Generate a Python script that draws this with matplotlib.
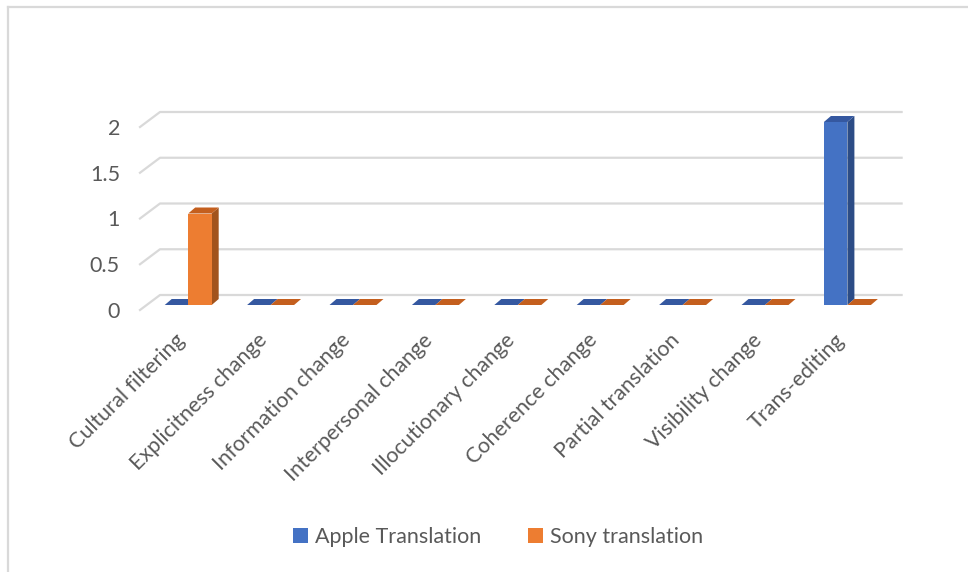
import matplotlib
matplotlib.use("Agg")
import matplotlib.pyplot as plt
from matplotlib.patches import Polygon, Patch
from matplotlib.lines import Line2D
from matplotlib.transforms import ScaledTranslation

categories = ["Cultural filtering", "Explicitness change", "Information change",
              "Interpersonal change", "Illocutionary change", "Coherence change",
              "Partial translation", "Visibility change", "Trans-editing"]
apple = [0, 0, 0, 0, 0, 0, 0, 0, 2]
sony = [1, 0, 0, 0, 0, 0, 0, 0, 0]
series_names = ["Apple Translation", "Sony translation"]
yticks = [0, 0.5, 1, 1.5, 2]

front_cols = ["#4472C4", "#ED7D31"]
top_cols = ["#3558A0", "#C45F1E"]
side_cols = ["#2C4C86", "#A2531C"]
grid_col = "#D9D9D9"
text_col = "#595959"
FS = 15.5

plt.rcParams['font.family'] = ['Lato', 'DejaVu Sans']

W, H, DPI = 968, 572, 100
fig = plt.figure(figsize=(W / DPI, H / DPI), dpi=DPI)

# axes placement in pixels (front plane)
left_px, right_px = 140, 140 + 9 * 82.4
bottom_px, top_px = 310, 127
ax = fig.add_axes([left_px / W, (H - bottom_px) / H,
                   (right_px - left_px) / W, (bottom_px - top_px) / H])
ax.set_xlim(-0.5, len(categories) - 0.5)
ax.set_ylim(0, 2)
for s in ax.spines.values():
    s.set_visible(False)
ax.set_xticks([])
ax.set_yticks(yticks)
ax.set_yticklabels([f"{t:g}" for t in yticks], color=text_col, fontsize=FS)
ax.tick_params(axis='y', length=0, pad=14.4)

ux = ax.bbox.width / (ax.get_xlim()[1] - ax.get_xlim()[0])
uy = ax.bbox.height / (ax.get_ylim()[1] - ax.get_ylim()[0])

def off(px, py):
    return px / ux, py / uy

# gridlines (front-left slant + back wall)
bdx, bdy = off(20, 15)
x0, x1 = ax.get_xlim()
for t in yticks:
    ax.add_line(Line2D([x0, x0 + bdx, x1 + bdx], [t, t + bdy, t + bdy],
                       color=grid_col, lw=1.6, clip_on=False, zorder=1))

# bars (3D look)
w = 0.285
fdx, fdy = off(7, 5)
ddx, ddy = off(7, 6)
for i in range(len(categories)):
    for k, vals in enumerate([apple, sony]):
        v = vals[i]
        xa = i - w if k == 0 else i
        xb = xa + w
        xa_f, xb_f = xa + fdx, xb + fdx
        b0 = 0 + fdy
        vt = v + fdy
        z = 3 + i * 2 + k
        ax.add_patch(Polygon([(xb_f, b0), (xb_f, vt), (xb_f + ddx, vt + ddy), (xb_f + ddx, b0 + ddy)],
                             closed=True, facecolor=side_cols[k], edgecolor='none',
                             clip_on=False, zorder=z))
        ax.add_patch(Polygon([(xa_f, vt), (xb_f, vt), (xb_f + ddx, vt + ddy), (xa_f + ddx, vt + ddy)],
                             closed=True, facecolor=top_cols[k], edgecolor='none',
                             clip_on=False, zorder=z))
        if v > 0:
            ax.bar(xa_f, v, width=w, bottom=b0, align='edge', color=front_cols[k],
                   edgecolor='none', clip_on=False, zorder=z + 0.5)

# category labels
lab_tr = ax.transData + ScaledTranslation(8 / DPI, -20 / DPI, fig.dpi_scale_trans)
for i, c in enumerate(categories):
    ax.text(i, 0, c, transform=lab_tr, rotation=45, ha='right', va='top',
            fontsize=FS, color=text_col)

# legend
handles = [Patch(facecolor=front_cols[k], edgecolor='none', label=series_names[k]) for k in range(2)]
fig.legend(handles=handles, loc='center', bbox_to_anchor=(498 / W, 1 - 537 / H), ncol=2,
           frameon=False, fontsize=FS, labelcolor=text_col, handlelength=0.7,
           handleheight=0.7, handletextpad=0.3, columnspacing=2.2)

# chart border
fig.add_artist(Line2D([8 / W, 1], [1 - 7 / H, 1 - 7 / H], transform=fig.transFigure,
                      color=grid_col, lw=1.6))
fig.add_artist(Line2D([8 / W, 8 / W], [0, 1 - 7 / H], transform=fig.transFigure,
                      color=grid_col, lw=1.6))

fig.savefig("out.png", dpi=DPI)
